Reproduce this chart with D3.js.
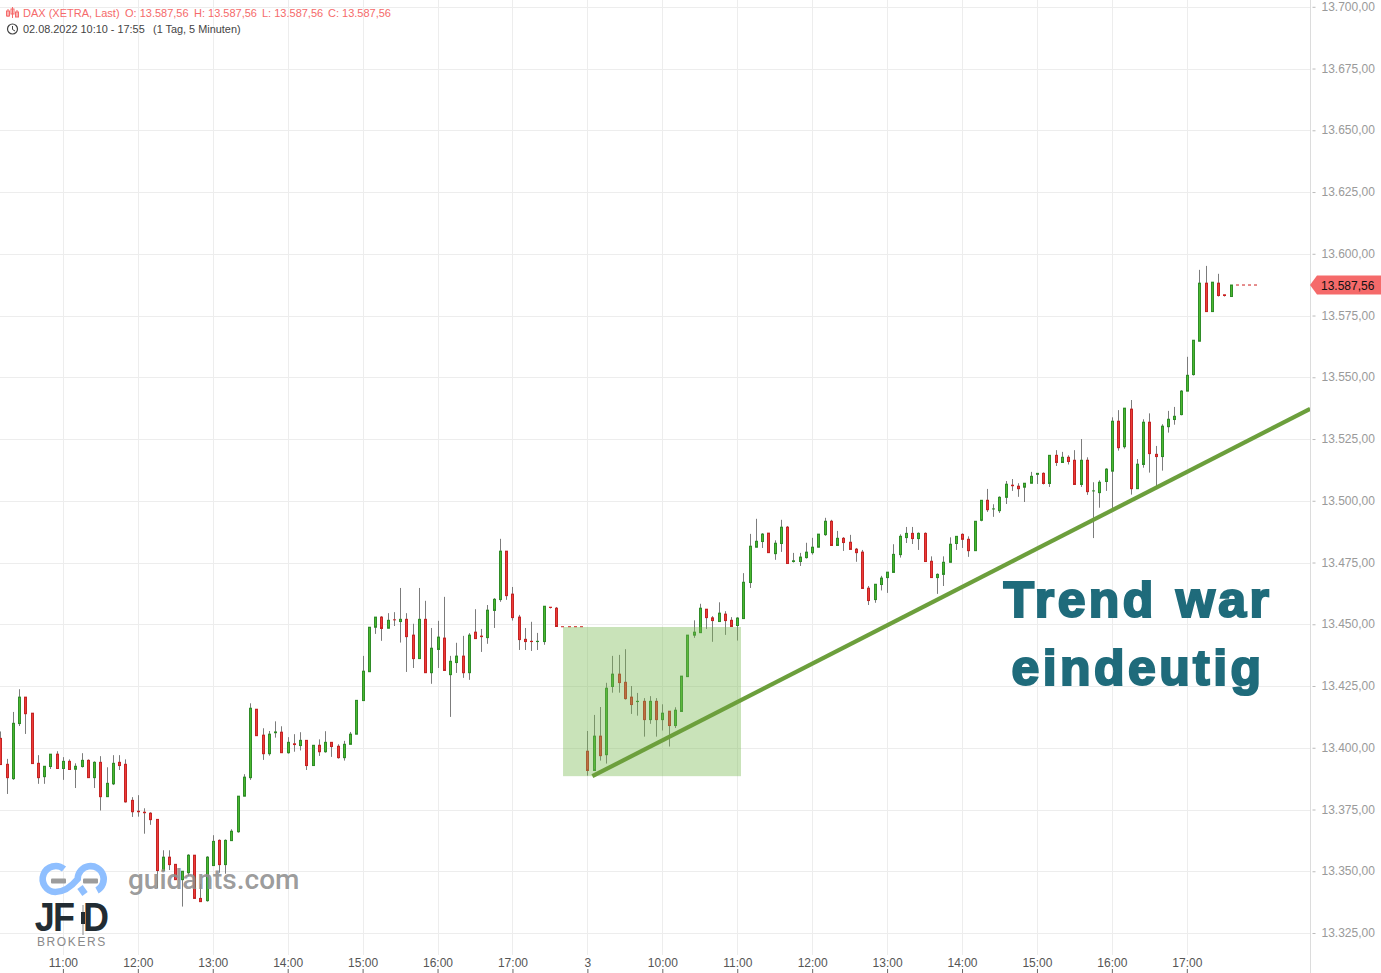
<!DOCTYPE html>
<html>
<head>
<meta charset="utf-8">
<script src="https://cdn.jsdelivr.net/npm/d3@7"></script>
<style>
  html, body { margin: 0; padding: 0; background: #fff; overflow: hidden; }
  svg { display: block; font-family: "Liberation Sans", Arial, sans-serif; }
</style>
</head>
<body>
<svg id="svg" width="1381" height="973"></svg>
<script>
// ── Data ──────────────────────────────────────────────────────────────────────

// 5 minute candles, first one is 10:10 on 02.08. (bar -10, bar 0 is 11:00)
const firstBar = -10;

const opens = [
  13404.0,13393.5,13387.7,13410.0,13420.7,13414.2,13393.9,13388.5,13392.6,13397.6,
  13391.8,13394.7,13391.5,13392.6,13395.1,13388.1,13394.3,13380.4,13385.6,13394.3,13393.5,13378.9,
  13374.5,13374.1,13373.7,13371.2,13350.5,13355.9,13353.0,13346.8,13349.6,13356.7,13339.2,13338.3,
  13352.5,13362.7,13352.9,13362.6,13366.2,13380.6,13388.1,13415.8,13405.3,13397.8,13405.9,13406.5,
  13398.2,13401.8,13401.1,13403.2,13393.0,13401.2,13398.6,13402.4,13400.8,13396.2,13401.6,13405.7,
  13419.3,13431.0,13449.0,13453.1,13448.6,13452.0,13451.3,13452.2,13445.8,13436.3,13452.2,13430.6,
  13440.0,13444.6,13429.8,13434.7,13437.3,13430.6,13447.0,13445.4,13444.8,13455.8,13460.2,13479.8,
  13462.4,13453.1,13444.1,13443.3,13442.8,13443.2,13457.1,13456.7,13449.2,13449.2,13449.2,13449.2,
  13398.8,13391.0,13404.9,13397.4,13425.0,13430.0,13426.7,13420.7,13418.5,13419.0,13411.6,13419.0,
  13411.6,13415.0,13409.2,13414.9,13429.0,13445.8,13446.8,13456.3,13452.8,13451.3,13454.3,13451.8,
  13449.7,13452.5,13467.1,13481.4,13483.7,13487.1,13478.8,13482.9,13489.5,13475.2,13475.6,13477.2,
  13479.2,13481.4,13486.5,13491.9,13482.1,13485.0,13483.4,13480.6,13479.4,13464.8,13460.2,13466.3,
  13469.1,13471.2,13478.4,13485.3,13487.0,13484.9,13487.0,13475.7,13469.1,13470.4,13475.3,13482.9,
  13486.6,13484.6,13480.0,13492.3,13500.4,13496.6,13496.2,13501.6,13506.5,13506.1,13505.7,13507.3,
  13510.5,13511.3,13507.2,13518.6,13515.7,13517.8,13516.6,13506.8,13516.6,13503.9,13503.5,13508.0,
  13512.2,13532.4,13522.1,13537.3,13505.1,13514.9,13532.0,13519.0,13518.1,13530.2,13533.1,13535.1,
  13544.6,13551.3,13564.8,13588.3,13576.8,13588.3,13583.6,13582.9,13587.56,13587.56,13587.56,13587.56
];

const highs = [
  13406.8,13395.7,13414.7,13423.9,13420.7,13414.2,13397.2,13392.7,13397.6,13398.8,
  13396.4,13395.5,13393.9,13398.0,13395.5,13394.7,13396.8,13392.3,13397.2,13397.2,13395.5,13380.2,
  13381.0,13375.7,13374.1,13371.2,13358.7,13358.7,13353.0,13350.2,13357.1,13356.7,13345.1,13356.3,
  13364.8,13363.1,13363.1,13367.2,13380.6,13389.5,13418.2,13415.8,13408.1,13407.0,13410.9,13408.9,
  13404.5,13405.7,13406.5,13403.2,13401.2,13403.6,13406.9,13402.4,13401.6,13403.0,13406.6,13419.4,
  13437.4,13449.0,13453.1,13453.5,13454.7,13455.1,13464.9,13454.7,13450.4,13464.9,13459.7,13448.7,
  13451.6,13461.3,13437.4,13442.7,13445.5,13446.6,13456.3,13448.3,13458.0,13460.8,13484.8,13479.8,
  13465.3,13454.0,13448.7,13451.2,13446.7,13457.5,13457.1,13457.2,13449.2,13449.2,13449.2,13449.2,
  13407.0,13413.5,13416.7,13426.5,13437.4,13437.8,13440.1,13425.2,13422.4,13420.3,13421.1,13420.3,
  13417.8,13415.0,13416.6,13429.2,13445.8,13451.8,13458.5,13456.3,13453.5,13459.1,13455.5,13453.1,
  13453.1,13470.9,13486.8,13492.9,13487.1,13487.1,13484.2,13492.5,13490.0,13479.1,13479.1,13483.2,
  13485.2,13486.7,13493.3,13492.5,13488.0,13485.5,13486.4,13481.1,13480.3,13465.7,13466.4,13469.8,
  13471.3,13482.6,13486.6,13489.6,13489.6,13487.4,13487.4,13477.7,13470.8,13477.7,13485.4,13485.8,
  13487.0,13485.8,13491.9,13500.4,13505.0,13498.8,13502.0,13508.2,13509.0,13507.3,13507.3,13511.9,
  13511.3,13511.7,13518.6,13520.7,13520.0,13518.6,13520.7,13525.2,13517.8,13507.7,13508.5,13513.4,
  13534.0,13536.9,13537.7,13541.0,13517.1,13533.2,13535.6,13522.4,13531.2,13536.6,13538.2,13545.0,
  13558.5,13565.2,13593.7,13595.3,13588.7,13592.1,13583.6,13587.56,13587.56,13587.56,13587.56,13587.56
];

const lows = [
  13393.4,13381.5,13387.2,13409.0,13405.8,13393.8,13385.6,13385.6,13391.6,13391.8,
  13387.2,13391.2,13383.9,13392.2,13388.1,13383.9,13374.8,13380.4,13385.1,13391.2,13378.0,13372.2,
  13372.3,13365.4,13369.0,13343.4,13350.5,13350.7,13346.7,13335.9,13348.3,13339.2,13337.9,13337.9,
  13352.5,13349.6,13349.2,13362.6,13365.8,13380.6,13387.2,13405.1,13395.3,13397.0,13404.3,13398.2,
  13397.8,13398.6,13399.1,13391.2,13393.0,13396.9,13398.2,13396.5,13395.8,13395.0,13401.6,13405.7,
  13419.3,13431.0,13446.3,13443.5,13448.6,13449.5,13442.8,13430.9,13432.5,13436.3,13430.6,13426.1,
  13432.5,13431.5,13412.7,13430.5,13428.5,13427.7,13444.4,13439.0,13442.3,13448.7,13459.3,13460.1,
  13451.7,13439.8,13439.8,13439.4,13439.8,13441.9,13456.6,13449.3,13449.2,13449.2,13449.2,13449.2,
  13388.9,13391.0,13395.0,13393.8,13422.5,13422.5,13419.7,13413.9,13413.2,13404.7,13409.9,13404.7,
  13407.2,13400.7,13408.2,13414.9,13429.0,13444.7,13446.8,13448.3,13443.1,13451.3,13445.9,13449.3,
  13443.6,13452.5,13464.9,13481.4,13481.1,13479.2,13476.3,13479.5,13474.8,13475.2,13473.8,13476.8,
  13478.4,13481.4,13486.0,13482.1,13482.1,13479.9,13480.5,13475.5,13464.7,13458.0,13458.9,13463.9,
  13462.9,13471.2,13477.2,13483.1,13482.7,13480.3,13475.6,13469.1,13462.5,13465.7,13475.3,13480.3,
  13481.1,13477.5,13480.0,13491.9,13495.7,13493.7,13495.3,13498.9,13504.2,13501.8,13499.7,13507.3,
  13507.0,13506.8,13505.8,13514.3,13515.7,13514.9,13506.8,13505.8,13502.6,13485.1,13497.4,13504.2,
  13496.0,13520.5,13521.3,13502.7,13505.1,13513.6,13511.6,13505.9,13512.4,13527.8,13531.0,13534.8,
  13544.6,13550.9,13564.8,13576.8,13576.8,13582.9,13582.9,13582.9,13587.56,13587.56,13587.56,13587.56
];

const closes = [
  13393.4,13388.1,13410.1,13420.7,13414.0,13393.8,13388.1,13392.7,13397.6,13391.8,
  13394.7,13391.4,13392.7,13395.1,13388.1,13394.3,13380.4,13385.8,13393.9,13393.0,13378.3,13374.3,
  13373.9,13373.5,13371.1,13350.5,13355.9,13352.9,13346.8,13350.2,13356.7,13339.2,13337.9,13355.9,
  13362.3,13352.9,13362.7,13366.4,13380.6,13388.3,13416.2,13405.1,13397.8,13405.7,13406.6,13398.2,
  13402.4,13401.1,13403.2,13393.0,13401.2,13398.6,13402.4,13400.7,13396.2,13401.6,13405.7,13419.4,
  13431.2,13449.0,13453.1,13448.5,13451.8,13451.7,13452.2,13445.2,13436.3,13452.2,13430.6,13440.5,
  13445.0,13431.5,13435.2,13437.3,13430.6,13445.8,13444.4,13444.8,13455.9,13460.3,13479.8,13461.8,
  13452.9,13444.0,13443.2,13442.8,13443.3,13457.5,13456.6,13449.3,13449.2,13449.2,13449.2,13449.2,
  13391.0,13404.9,13397.0,13424.3,13430.0,13426.6,13420.1,13417.7,13419.0,13411.6,13419.0,13411.6,
  13414.2,13409.2,13415.4,13429.2,13445.8,13447.0,13456.7,13452.9,13451.7,13454.7,13451.7,13449.3,
  13452.7,13467.2,13481.8,13483.8,13486.7,13479.2,13483.0,13489.5,13474.8,13475.9,13477.4,13479.4,
  13481.4,13486.7,13491.9,13482.1,13485.0,13483.3,13480.5,13479.2,13464.7,13459.8,13466.4,13468.9,
  13471.3,13478.5,13485.8,13487.0,13484.9,13487.0,13475.6,13469.1,13470.4,13475.3,13482.6,13485.8,
  13484.6,13480.0,13491.9,13500.4,13496.6,13496.9,13501.6,13506.9,13505.9,13505.1,13507.3,13510.1,
  13511.3,13507.2,13518.6,13515.7,13517.8,13516.1,13506.8,13516.6,13503.9,13504.2,13507.7,13513.0,
  13532.4,13521.7,13537.7,13505.1,13515.0,13532.0,13519.3,13518.1,13530.4,13533.2,13534.4,13544.6,
  13551.0,13565.2,13588.3,13576.8,13588.7,13583.3,13582.9,13587.56,13587.56,13587.56,13587.56,13587.56
];

const xTickBars   = [0, 12, 24, 36, 48, 60, 72, 84, 96, 108, 120, 132, 144, 156, 168, 180];
const xTickLabels = ['11:00', '12:00', '13:00', '14:00', '15:00', '16:00', '17:00', '3',
                     '10:00', '11:00', '12:00', '13:00', '14:00', '15:00', '16:00', '17:00'];
const yTicks = d3.range(13325, 13701, 25);

const lastPrice = 13587.56;

// annotations drawn over the candles
const zoneBars    = [80.1, 108.6];
const zonePrices  = [13449.1, 13388.7];
const trendBars   = [84.8, 199.75];
const trendPrices = [13388.7, 13537.4];

const headerParts = [
  ['DAX (XETRA, Last)', 23], ['O: 13.587,56', 125], ['H: 13.587,56', 194],
  ['L: 13.587,56', 262], ['C: 13.587,56', 328]
];

// ── Scales ────────────────────────────────────────────────────────────────────

const svg = d3.select('#svg');

const x = d3.scaleLinear().domain([0, 180]).range([62.9, 1186.8]);
const y = d3.scaleLinear().domain([13325, 13700]).range([933.5, 7.3]);

const axisX = 1310;
const deFormat = d3.formatLocale({ decimal: ',', thousands: '.', grouping: [3], currency: ['', ''] }).format(',.2f');

const candles = opens.map((o, i) => ({
  bar: firstBar + i, o, h: highs[i], l: lows[i], c: closes[i]
}));

// ── Grid ──────────────────────────────────────────────────────────────────────

const grid = svg.append('g').attr('stroke', '#ededed').attr('stroke-width', 1);

grid.selectAll('.hline').data(yTicks).join('line')
  .attr('class', 'hline')
  .attr('x1', 0).attr('x2', axisX)
  .attr('y1', d => Math.floor(y(d)) + 0.5).attr('y2', d => Math.floor(y(d)) + 0.5);

grid.selectAll('.vline').data(xTickBars).join('line')
  .attr('class', 'vline')
  .attr('y1', 0).attr('y2', 955)
  .attr('x1', d => Math.round(x(d)) + 0.5).attr('x2', d => Math.round(x(d)) + 0.5);

// ── Candles ───────────────────────────────────────────────────────────────────

const cx = d => Math.round(x(d.bar)) + 0.5;

const candleSel = svg.append('g').selectAll('g').data(candles).join('g');

candleSel.filter(d => d.h !== d.l).append('line')
  .attr('x1', cx).attr('x2', cx)
  .attr('y1', d => y(d.h)).attr('y2', d => y(d.l))
  .attr('stroke', '#7c7c7c').attr('stroke-width', 1);

candleSel.filter(d => d.o !== d.c && Math.abs(y(d.o) - y(d.c)) >= 2).append('rect')
  .attr('x', d => cx(d) - 1).attr('width', 2)
  .attr('y', d => y(Math.max(d.o, d.c)))
  .attr('height', d => Math.abs(y(d.o) - y(d.c)))
  .attr('fill', d => d.c > d.o ? '#4ab82f' : '#ee3b37')
  .attr('stroke', d => d.c > d.o ? '#2f8c28' : '#c42424')
  .attr('stroke-width', 1);

// doji and flat bars are just a small dash
candleSel.filter(d => Math.abs(y(d.o) - y(d.c)) < 2).append('rect')
  .attr('x', d => cx(d) - 1.5).attr('width', 3)
  .attr('y', d => y(Math.max(d.o, d.c)) - 0.5)
  .attr('height', d => Math.max(1, Math.abs(y(d.o) - y(d.c))))
  .attr('fill', d => d.c > d.o ? '#2b8a24' : '#cc1f1f');

// ── Annotations ───────────────────────────────────────────────────────────────

svg.append('rect')
  .attr('x', x(zoneBars[0])).attr('width', x(zoneBars[1]) - x(zoneBars[0]))
  .attr('y', y(zonePrices[0])).attr('height', y(zonePrices[1]) - y(zonePrices[0]))
  .attr('fill', '#78b850').attr('fill-opacity', 0.4);

svg.append('line')
  .attr('x1', x(trendBars[0])).attr('y1', y(trendPrices[0]))
  .attr('x2', x(trendBars[1])).attr('y2', y(trendPrices[1]))
  .attr('stroke', '#6c9f3c').attr('stroke-width', 4.2);

svg.selectAll('.note').data([['Trend war', 617], ['eindeutig', 685]]).join('text')
  .attr('class', 'note')
  .attr('x', 1138).attr('y', d => d[1])
  .attr('text-anchor', 'middle')
  .attr('font-size', 50).attr('font-weight', 700)
  .attr('letter-spacing', 3.4).attr('word-spacing', 2)
  .attr('fill', '#1f6b7b').attr('stroke', '#1f6b7b').attr('stroke-width', 2.2)
  .text(d => d[0]);

// ── Axes ──────────────────────────────────────────────────────────────────────

const yAxis = svg.append('g')
  .attr('transform', `translate(${axisX + 0.5},-0.5)`)
  .call(d3.axisRight(y).tickValues(yTicks).tickFormat(deFormat).tickSize(5).tickPadding(6));
yAxis.select('.domain').attr('stroke', '#dcdcdc').attr('d', 'M0,0V974');
yAxis.selectAll('.tick line').attr('stroke', '#bbb').attr('x1', 2);
yAxis.selectAll('text').attr('fill', '#9a9a9a').attr('font-size', 12).attr('y', -0.2)
  .attr('font-family', '"Liberation Sans", Arial, sans-serif');

const xAxis = svg.append('g')
  .attr('transform', 'translate(0,973)')
  .call(d3.axisTop(x).tickValues(xTickBars)
    .tickFormat((d, i) => xTickLabels[i]).tickSize(4).tickPadding(2));
xAxis.select('.domain').remove();
xAxis.selectAll('.tick line').attr('stroke', '#666');
xAxis.selectAll('text').attr('fill', '#555').attr('font-size', 12)
  .attr('font-family', '"Liberation Sans", Arial, sans-serif');

// last price tag and dashes
const tagY = y(lastPrice);
svg.append('path')
  .attr('d', `M${axisX},${tagY} l7,-9.5 H1381 v19 H${axisX + 7} Z`)
  .attr('fill', '#f56a6a');
svg.append('text')
  .attr('x', 1321).attr('y', tagY + 4.5)
  .attr('font-size', 12).attr('fill', '#111')
  .text(deFormat(lastPrice));

// ── Header ────────────────────────────────────────────────────────────────────

const header = svg.append('g').attr('font-size', 11);

header.selectAll('.hdr').data(headerParts).join('text')
  .attr('class', 'hdr')
  .attr('x', d => d[1]).attr('y', 17)
  .attr('fill', '#f56a6a')
  .text(d => d[0]);

header.selectAll('.ico').data([[8, 9, 17], [12.5, 7, 18], [17, 10, 17]]).join('g')
  .attr('class', 'ico')
  .each(function(d) {
    const sel = d3.select(this);
    sel.append('line').attr('x1', d[0]).attr('x2', d[0]).attr('y1', d[1]).attr('y2', d[2])
      .attr('stroke', '#f56a6a');
    sel.append('rect').attr('x', d[0] - 1.5).attr('y', d[1] + 2).attr('width', 3).attr('height', 5)
      .attr('fill', 'none').attr('stroke', '#f56a6a');
  });

header.append('circle').attr('cx', 12.5).attr('cy', 29).attr('r', 5)
  .attr('fill', 'none').attr('stroke', '#444').attr('stroke-width', 1.2);
header.append('path').attr('d', 'M12.5,26 V29.5 L15,31')
  .attr('fill', 'none').attr('stroke', '#444');
header.append('text').attr('x', 23).attr('y', 33).attr('fill', '#444').attr('font-size', 10.9).text('02.08.2022 10:10 - 17:55');
header.append('text').attr('x', 153).attr('y', 33).attr('fill', '#444').attr('font-size', 10.9).text('(1 Tag, 5 Minuten)');

// ── Logo ──────────────────────────────────────────────────────────────────────

const logo = svg.append('g');

logo.append('path')
  .attr('d', 'M64,869 A13,13 0 1 0 55.3,892 C64,892 71,887 77.7,879 A13,13 0 1 1 97,890.5 M80,887 L85,894')
  .attr('fill', 'none').attr('stroke', '#8fbfff').attr('stroke-width', 6.6);
logo.selectAll('.bar').data([51, 83]).join('rect')
  .attr('class', 'bar')
  .attr('x', d => d).attr('y', 878.5).attr('width', 15).attr('height', 5).attr('rx', 1)
  .attr('fill', '#9c9c9c');

logo.selectAll('.jfd').data([['J', 34.7], ['F', 53], ['D', 83]]).join('text')
  .attr('class', 'jfd')
  .attr('transform', d => `translate(${d[1]},931) scale(1,1.12)`)
  .attr('font-size', 36).attr('font-weight', 700).attr('fill', '#222c33')
  .text(d => d[0]);
logo.append('line').attr('x1', 83).attr('x2', 83).attr('y1', 905).attr('y2', 935)
  .attr('stroke', '#8a8a8a').attr('stroke-width', 1);
logo.append('rect').attr('x', 81).attr('y', 912).attr('width', 4).attr('height', 12)
  .attr('fill', '#222c33');

logo.append('text').attr('x', 37).attr('y', 946)
  .attr('font-size', 12).attr('letter-spacing', 1.6).attr('fill', '#8a8a8a')
  .text('BROKERS');

logo.append('text').attr('x', 128).attr('y', 889)
  .attr('font-family', 'Roboto, sans-serif').attr('font-size', 28).attr('font-weight', 500)
  .attr('fill', '#8f8f8f').attr('fill-opacity', 0.9)
  .text('guidants.com');
</script>
</body>
</html>
